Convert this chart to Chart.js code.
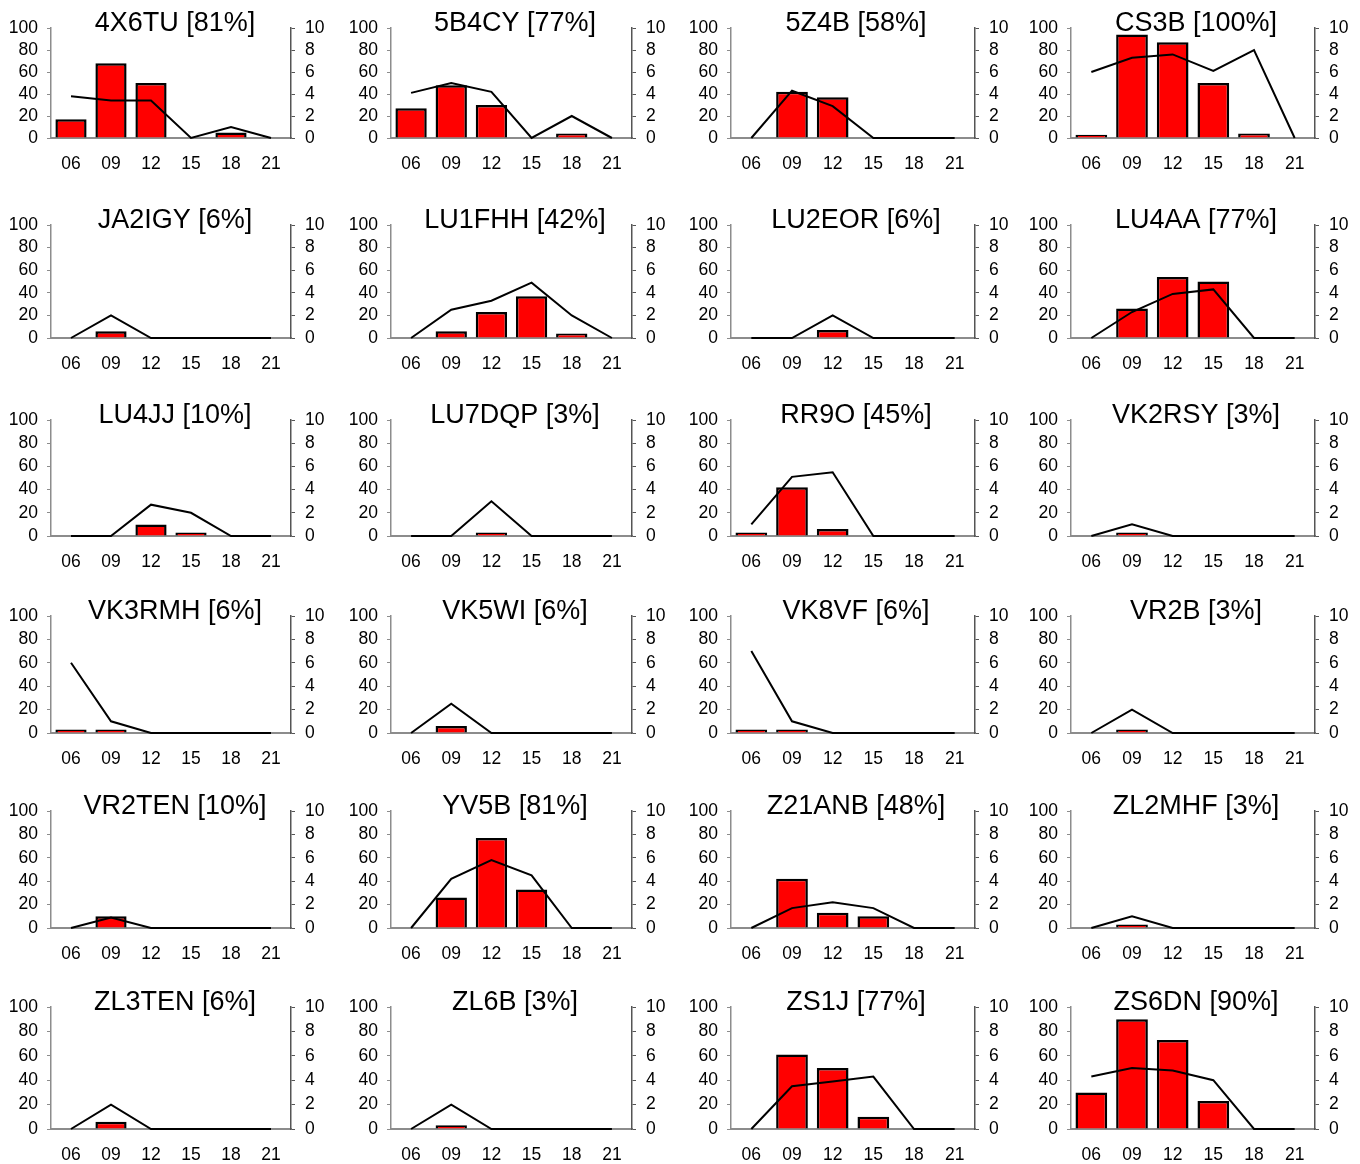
<!DOCTYPE html>
<html><head><meta charset="utf-8">
<script src="https://cdn.jsdelivr.net/npm/chart.js@4.4.1/dist/chart.umd.min.js"></script>
<style>
html,body{margin:0;padding:0;background:#fff;overflow:hidden;}
#wrap{position:relative;width:1360px;height:1164px;overflow:hidden;background:#fff;}
#wrap canvas{position:absolute;}
</style></head><body><div id="wrap"></div>
<script>
const hours = ['06','09','12','15','18','21'];
const stations = ['4X6TU','5B4CY','5Z4B','CS3B','JA2IGY','LU1FHH','LU2EOR','LU4AA','LU4JJ','LU7DQP','RR9O','VK2RSY','VK3RMH','VK5WI','VK8VF','VR2B','VR2TEN','YV5B','Z21ANB','ZL2MHF','ZL3TEN','ZL6B','ZS1J','ZS6DN'];
const percents = [81,77,58,100,6,42,6,77,10,3,45,3,6,6,6,3,10,81,48,3,6,3,77,90];
// bar series (left axis, 0-100), one row per station
const barValues = [
  [17,68,50,0,5,0],
  [27,48,30,0,4,0],
  [0,42,37,0,0,0],
  [3,94,87,50,4,0],
  [0,6,0,0,0,0],
  [0,6,23,37,4,0],
  [0,0,7,0,0,0],
  [0,26,54,50,0,0],
  [0,0,10,3,0,0],
  [0,0,3,0,0,0],
  [3,42,6,0,0,0],
  [0,3,0,0,0,0],
  [3,3,0,0,0,0],
  [0,6,0,0,0,0],
  [3,3,0,0,0,0],
  [0,3,0,0,0,0],
  [0,10,0,0,0,0],
  [0,26,77,33,0,0],
  [0,42,13,10,0,0],
  [0,3,0,0,0,0],
  [0,6,0,0,0,0],
  [0,3,0,0,0,0],
  [0,61,50,10,0,0],
  [30,90,73,23,0,0]
];
// line series (right axis, 0-10), one row per station
const lineValues = [
  [3.8,3.4,3.4,0,1,0],
  [4.1,5.0,4.2,0,2,0],
  [0,4.3,2.9,0,0,0],
  [6.0,7.3,7.6,6.1,8.0,0],
  [0,2,0,0,0,0],
  [0,2.5,3.3,4.9,2.0,0],
  [0,0,2,0,0,0],
  [0,2.3,3.9,4.3,0,0],
  [0,0,2.7,2.0,0,0],
  [0,0,3,0,0,0],
  [1.0,5.1,5.5,0,0,0],
  [0,1,0,0,0,0],
  [6,1,0,0,0,0],
  [0,2.5,0,0,0,0],
  [7,1,0,0,0,0],
  [0,2,0,0,0,0],
  [0,0.9,0,0,0,0],
  [0,4.2,5.8,4.5,0,0],
  [0,1.7,2.2,1.7,0,0],
  [0,1,0,0,0,0],
  [0,2,0,0,0,0],
  [0,2,0,0,0,0],
  [0,3.5,3.9,4.3,0,0],
  [4.3,5.0,4.8,4.0,0,0]
];
const leftTicks = [0,20,40,60,80,100];
const rightTicks = [0,2,4,6,8,10];

// layout geometry (pixels in the page)
const colPlotLeft = [51,391,731,1071];
const colPlotRight = [291,632,975,1315];
const colTitleCenter = [175,515,856,1196];
const rowPlotTop = [28,225,420,616,811,1007];
const rowPlotBottom = [138,338,536,733,928,1129];
const W = 340, TITLE_H = 28, XAXIS_H = 36;
const FONT = "'Liberation Sans', Arial, sans-serif";

const wrap = document.getElementById('wrap');
stations.forEach((name, i) => {
  const c = i % 4, r = Math.floor(i / 4);
  const left = colTitleCenter[c] - W / 2;
  const top = rowPlotTop[r] - TITLE_H;
  const H = rowPlotBottom[r] - rowPlotTop[r] + TITLE_H + XAXIS_H;
  const leftW = colPlotLeft[c] - left;
  const rightW = left + W - colPlotRight[c];
  const cv = document.createElement('canvas');
  cv.width = W; cv.height = H;
  cv.style.left = left + 'px'; cv.style.top = top + 'px';
  cv.style.width = W + 'px'; cv.style.height = H + 'px';
  wrap.appendChild(cv);
  new Chart(cv, {
    data: {
      labels: hours,
      datasets: [
        {
          type: 'line',
          data: lineValues[i],
          yAxisID: 'y2',
          borderColor: '#000',
          borderWidth: 2,
          pointRadius: 0,
          tension: 0,
          clip: 6,
          order: 0
        },
        {
          type: 'bar',
          data: barValues[i].map(v => v === 0 ? null : v),
          yAxisID: 'y',
          backgroundColor: '#ff0000',
          borderColor: '#000',
          borderWidth: 2.5,
          barPercentage: 0.78,
          categoryPercentage: 1.0,
          order: 1
        }
      ]
    },
    options: {
      responsive: false,
      devicePixelRatio: 1,
      animation: false,
      layout: { padding: 0 },
      plugins: {
        legend: { display: false },
        tooltip: { enabled: false },
        title: {
          display: true,
          text: name + ' [' + percents[i] + '%]',
          color: '#000',
          font: { family: FONT, size: 27, weight: 'normal', lineHeight: 1 },
          padding: { top: 10, bottom: -9 }
        }
      },
      scales: {
        x: {
          type: 'category',
          offset: true,
          grid: { display: false, drawTicks: false },
          border: { display: true, color: '#8c8c8c', width: 2 },
          ticks: { color: '#000', font: { family: FONT, size: 17.5 }, padding: 16, maxRotation: 0, autoSkip: false },
          afterFit: s => { s.height = XAXIS_H; }
        },
        y: {
          position: 'left',
          min: 0, max: 100,
          afterBuildTicks: s => { s.ticks = leftTicks.map(v => ({ value: v })); },
          ticks: { autoSkip: false, color: '#000', font: { family: FONT, size: 17.5 }, padding: 9 },
          grid: { drawOnChartArea: false, drawTicks: true, tickLength: 4, color: '#8c8c8c' },
          border: { display: true, color: '#8c8c8c', width: 1.5 },
          afterFit: s => { s.width = leftW; }
        },
        y2: {
          position: 'right',
          min: 0, max: 10,
          afterBuildTicks: s => { s.ticks = rightTicks.map(v => ({ value: v })); },
          ticks: { autoSkip: false, color: '#000', font: { family: FONT, size: 17.5 }, padding: 10 },
          grid: { drawOnChartArea: false, drawTicks: true, tickLength: 4, color: '#555' },
          border: { display: true, color: '#555', width: 1.5 },
          afterFit: s => { s.width = rightW; }
        }
      }
    }
  });
});
</script></body></html>
